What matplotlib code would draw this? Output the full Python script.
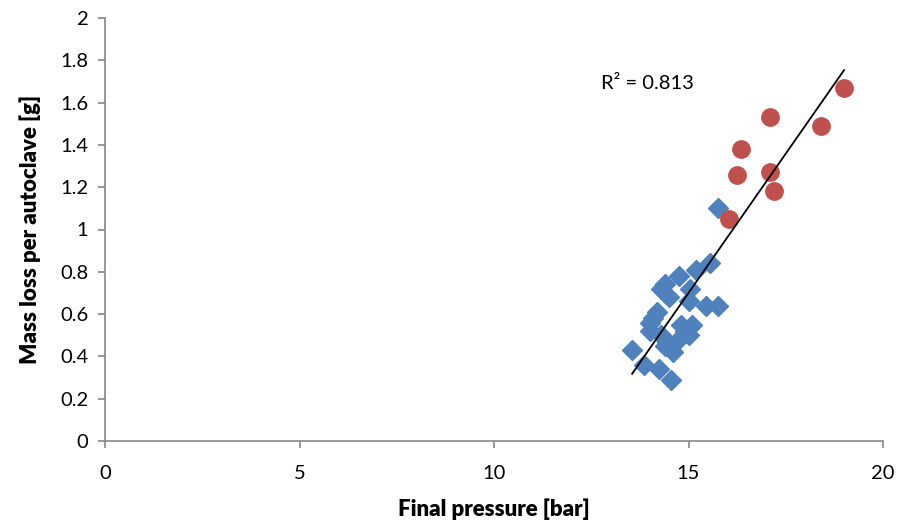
import numpy as np
import matplotlib
matplotlib.use("Agg")
import matplotlib.pyplot as plt

# Blue series (diamonds)
blue_x = [15.75, 15.55, 15.2, 14.75, 14.4, 14.3, 14.5, 15.05, 15.0, 15.45, 15.75,
          14.2, 14.1, 14.0, 14.0, 14.3, 14.45, 14.8, 14.9, 15.0, 14.75, 14.6, 14.4,
          13.55, 13.85, 14.25, 14.55, 15.1]
blue_y = [1.10, 0.84, 0.81, 0.78, 0.74, 0.72, 0.68, 0.72, 0.66, 0.64, 0.64,
          0.61, 0.58, 0.56, 0.52, 0.50, 0.47, 0.55, 0.52, 0.50, 0.48, 0.42, 0.45,
          0.43, 0.36, 0.34, 0.29, 0.55]
# Red series (circles)
red_x = [16.05, 16.25, 16.35, 17.1, 17.1, 17.2, 18.4, 19.0]
red_y = [1.05, 1.26, 1.38, 1.53, 1.27, 1.18, 1.49, 1.67]

r2_label = "R² = 0.813"
x_ticks = [0, 5, 10, 15, 20]
y_ticks = [0, 0.2, 0.4, 0.6, 0.8, 1, 1.2, 1.4, 1.6, 1.8, 2]

plt.rcParams['font.family'] = ['Lato', 'DejaVu Sans']

fig = plt.figure(figsize=(9.07, 5.31), dpi=100)
ax = fig.add_axes([105/907, 1-441/531, (883-105)/907, (441-18)/531])

gray = '#868686'
ax.plot(blue_x, blue_y, linestyle='none', marker='D', ms=10, color='#4F81BD', zorder=3)
ax.plot(red_x, red_y, linestyle='none', marker='o', ms=12.5, color='#C0504D', zorder=3)

# linear trend line on all data
all_x = np.array(blue_x + red_x)
all_y = np.array(blue_y + red_y)
m, b = np.polyfit(all_x, all_y, 1)
xs = np.array([all_x.min(), all_x.max()])
ax.plot(xs, m*xs + b, color='black', lw=1.3, zorder=4)

ax.text(13.95, 1.69, r2_label, fontsize=14.5, ha='center', va='center')

ax.set_xlim(0, 20)
ax.set_ylim(0, 2)
ax.set_xticks(x_ticks)
ax.set_xticklabels([str(t) for t in x_ticks])
ax.set_yticks(y_ticks)
ax.set_yticklabels([('%g' % t) for t in y_ticks])
for s in ['top', 'right']:
    ax.spines[s].set_visible(False)
for s in ['left', 'bottom']:
    ax.spines[s].set_color(gray)
    ax.spines[s].set_linewidth(1.2)
ax.tick_params(axis='both', colors=gray, length=5, width=1.2, labelsize=14.5, labelcolor='black')
ax.tick_params(axis='x', pad=12)
ax.tick_params(axis='y', pad=7)
ax.set_xlabel('Final pressure [bar]', fontsize=16, fontweight='heavy', labelpad=12)
ax.set_ylabel('Mass loss per autoclave [g]', fontsize=16, fontweight='heavy', labelpad=14)

fig.savefig('out.png', dpi=100)
